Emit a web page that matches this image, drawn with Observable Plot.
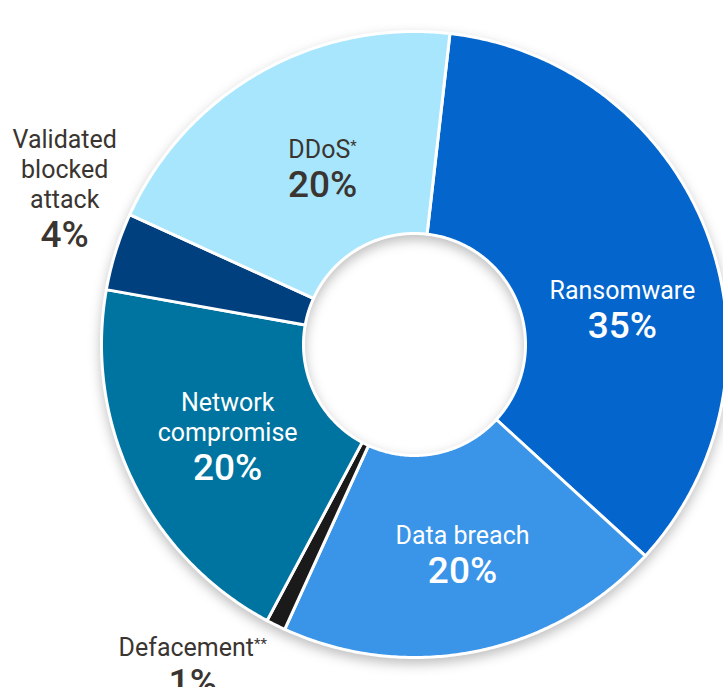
<!DOCTYPE html>
<html>
<head>
<meta charset="utf-8">
<script src="https://cdn.jsdelivr.net/npm/d3@7"></script>
<script src="https://cdn.jsdelivr.net/npm/@observablehq/plot@0.6"></script>
<style>
  html, body { margin: 0; padding: 0; background: #ffffff; overflow: hidden; }
  #chart svg g[aria-label="line"] { filter: drop-shadow(0px 5px 6px rgba(0,0,0,0.25)); }
</style>
</head>
<body>
<div id="chart"></div>
<script>
// ---- data ----
const categories = ["Ransomware", "Data breach", "Defacement", "Network compromise", "Validated blocked attack", "DDoS"];
const shares = [35, 20, 1, 20, 4, 20];
const nameLabels = ["Ransomware", "Data breach", "Defacement**", "Network\ncompromise", "Validated\nblocked\nattack", "DDoS*"];
const pctLabels = ["35%", "20%", "1%", "20%", "4%", "20%"];

// ---- styles / layout ----
const sliceColors = ["#0466cc", "#3a94e8", "#1a1a1a", "#0074a0", "#00407f", "#a8e6fd"];
const lightText = [true, true, false, true, false, false];
// label anchor (baseline of the percentage) in polar coords: [angle deg clockwise from north, radius px]
const labelPolar = [[88.3, 208], [168.6, 243], [212.3, 415], [234.0, 231], [285.5, 363], [328.1, 174]];

const W = 723, H = 687, CX = 414, CY = 344, R = 313, R0 = 111, START = 6.5;
const TEXT = "#3a3530";

const total = d3.sum(shares);
const rad = d => d * Math.PI / 180;
const pts = [];
let acc = 0;
categories.forEach((c, i) => {
  const a0 = START + acc / total * 360;
  acc += shares[i];
  const a1 = START + acc / total * 360;
  const n = Math.max(2, Math.ceil((a1 - a0) / 0.5));
  const ring = [];
  for (let k = 0; k <= n; k++) { const a = rad(a0 + (a1 - a0) * k / n); ring.push([R * Math.sin(a), R * Math.cos(a)]); }
  for (let k = n; k >= 0; k--) { const a = rad(a0 + (a1 - a0) * k / n); ring.push([R0 * Math.sin(a), R0 * Math.cos(a)]); }
  ring.push(ring[0]);
  ring.forEach(([x, y]) => pts.push({cat: c, x, y}));
});

const labels = categories.map((c, i) => {
  const [ang, r] = labelPolar[i];
  return {cat: c, name: nameLabels[i], pct: pctLabels[i], light: lightText[i],
          x: r * Math.sin(rad(ang)), y: r * Math.cos(rad(ang))};
});

const nameOpts = {x: "x", y: "y", text: "name", fontSize: 25, lineHeight: 1.2, lineAnchor: "bottom", dy: -39, textAnchor: "middle"};
const pctOpts = {x: "x", y: "y", text: "pct", fontSize: 37, fontWeight: 500, lineAnchor: "bottom", textAnchor: "middle"};

const chart = Plot.plot({
  width: W, height: H,
  margin: 0,
  style: {fontFamily: "Roboto, sans-serif", background: "#ffffff"},
  x: {domain: [-CX, W - CX], axis: null},
  y: {domain: [-(H - CY), CY], axis: null},
  color: {domain: categories, range: sliceColors},
  marks: [
    Plot.line(pts, {x: "x", y: "y", z: "cat", fill: "cat", stroke: "white", strokeWidth: 3, strokeLinejoin: "round", curve: "linear"}),
    Plot.text(labels, {...nameOpts, filter: d => d.light, fill: "white"}),
    Plot.text(labels, {...nameOpts, filter: d => !d.light, fill: TEXT}),
    Plot.text(labels, {...pctOpts, filter: d => d.light, fill: "white"}),
    Plot.text(labels, {...pctOpts, filter: d => !d.light, fill: TEXT})
  ]
});

// shrink asterisks into superscripts
chart.querySelectorAll("text, tspan").forEach(el => {
  if (el.children.length === 0 && el.textContent.includes("*")) {
    const t = el.textContent;
    const base = t.replace(/\*+$/, "");
    const stars = t.slice(base.length);
    el.textContent = base;
    const ns = "http://www.w3.org/2000/svg";
    const s = document.createElementNS(ns, "tspan");
    s.setAttribute("font-size", "0.6em");
    s.setAttribute("baseline-shift", "0.5em");
    s.textContent = stars;
    el.appendChild(s);
  }
});

document.getElementById("chart").appendChild(chart);
</script>
</body>
</html>
